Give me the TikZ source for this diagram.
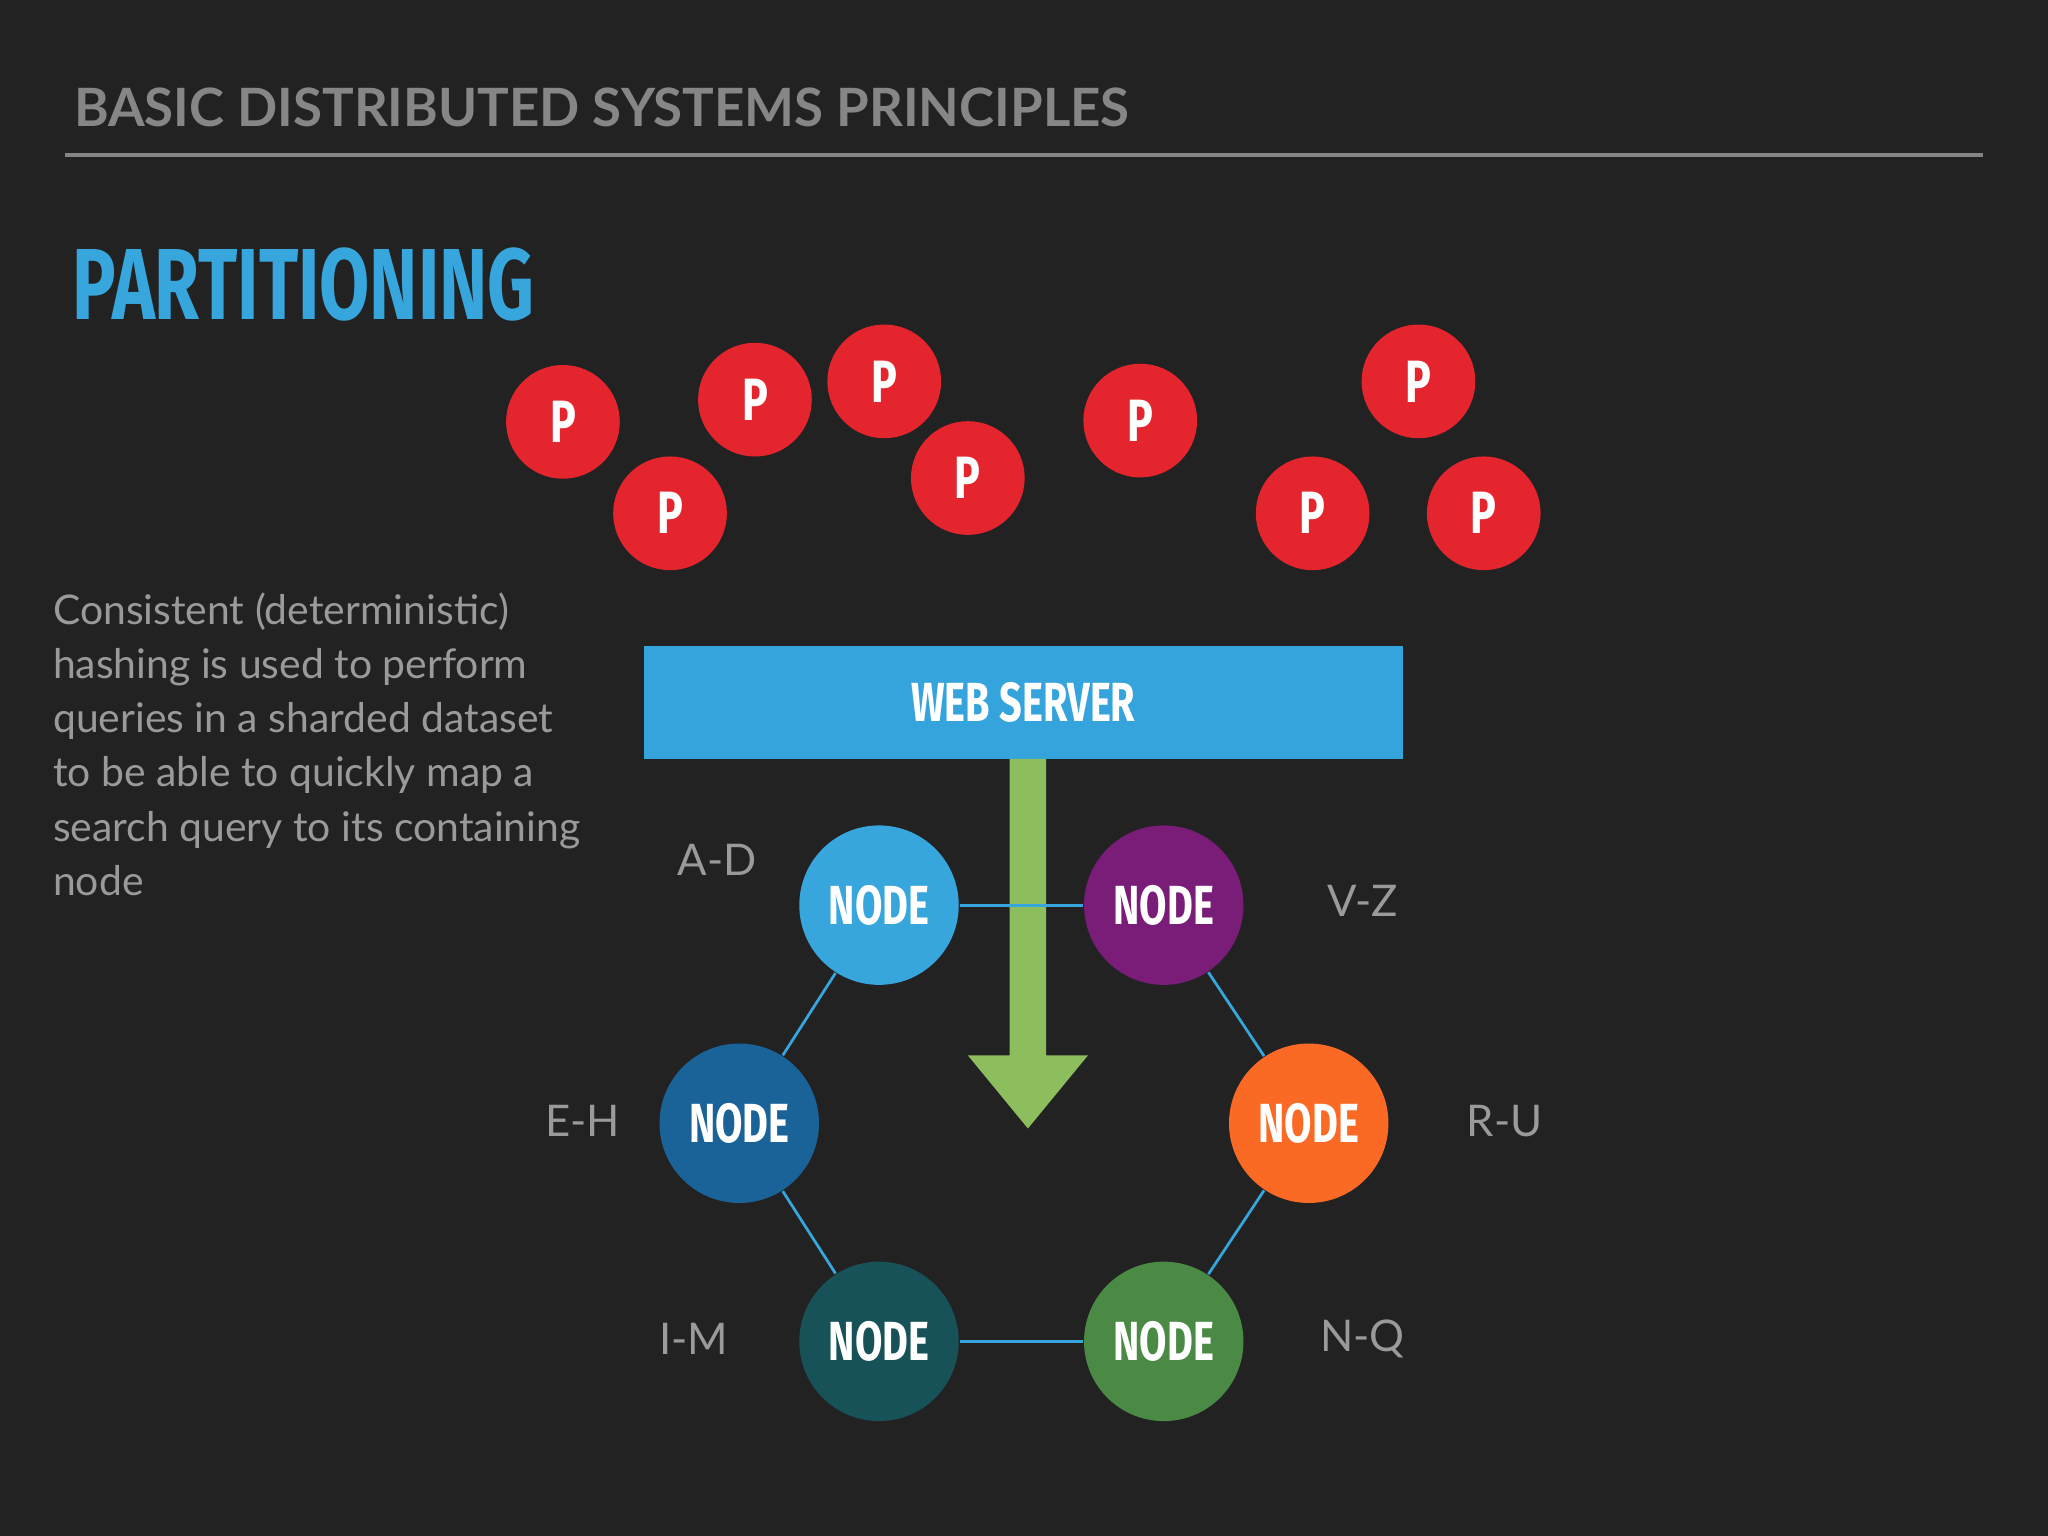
\documentclass[tikz,border=0pt]{standalone}
\usepackage{fontspec}
\setmainfont{Lato}
\newfontfamily\cond[FakeStretch=0.72]{Fira Sans}
\usetikzlibrary{positioning}
\definecolor{bg}{HTML}{222223}
\definecolor{pred}{HTML}{E4252E}
\definecolor{wsblue}{HTML}{35A4DC}
\definecolor{agreen}{HTML}{8DBE5D}
\definecolor{lgray}{HTML}{9A9A9A}
\definecolor{c1}{HTML}{36A6DD}
\definecolor{c2}{HTML}{7A1D79}
\definecolor{c3}{HTML}{1A6399}
\definecolor{c4}{HTML}{FB6A25}
\definecolor{c5}{HTML}{165257}
\definecolor{c6}{HTML}{4A8A45}
\tikzset{
 pcirc/.style={circle,fill=pred,minimum size=0.87cm,inner sep=0pt,text=white,font=\cond\bfseries\fontsize{13}{13}\selectfont},
 nd/.style={circle,minimum size=1.22cm,inner sep=0pt,text=white,font=\cond\bfseries\fontsize{12}{12}\selectfont},
 rng/.style={text=lgray,font=\fontsize{9.5}{10}\selectfont},
 link/.style={draw=c1,line width=0.6pt}
}
\begin{document}
\begin{tikzpicture}[x=0.01cm,y=-0.01cm]
\fill[bg] (0,0) rectangle (1568,1176);
\node[anchor=base west,inner sep=0,text=lgray!120,font=\fontsize{11.5}{12}\selectfont\bfseries] (hdr) at (56,97) {BASIC DISTRIBUTED SYSTEMS PRINCIPLES};
\draw[lgray!120,line width=0.9pt] (50,119) -- (1518,119);
\node[anchor=base west,inner sep=0,text=c1,font=\cond\bfseries\fontsize{22}{22}\selectfont] (title) at (55,245) {PARTITIONING};
\foreach \n/\x/\y in {p1/431/323,p2/578/306,p3/677/292,p4/513/393,p5/741/366,p6/873/322,p7/1086/292,p8/1005/393,p9/1136/393}
  \node[pcirc] (\n) at (\x,\y) {P};
\node[anchor=north west,inner sep=0,text=lgray,align=left,font=\fontsize{8.9}{11.8}\selectfont] (para) at (40,453)
 {Consistent (deterministic)\\hashing is used to perform\\queries in a sharded dataset\\to be able to quickly map a\\search query to its containing\\node};
\node[fill=wsblue,minimum width=5.81cm,minimum height=0.86cm,inner sep=0,text=white,font=\cond\bfseries\fontsize{12}{12}\selectfont] (ws) at (783.5,538) {WEB SERVER};
\node[nd,fill=c1] (ad) at (673,693) {NODE};
\node[nd,fill=c2] (vz) at (891,693) {NODE};
\node[nd,fill=c3] (eh) at (566,860) {NODE};
\node[nd,fill=c4] (ru) at (1002,860) {NODE};
\node[nd,fill=c5] (im) at (673,1027) {NODE};
\node[nd,fill=c6] (nq) at (891,1027) {NODE};
\coordinate (tip) at (787,864);
\fill[agreen] (773,581) -- (801,581) -- (801,808) -- (833,808) -- (tip) -- (741,808) -- (773,808) -- cycle;
\draw[link] (ad) -- (vz);
\draw[link] (vz) -- (ru);
\draw[link] (ru) -- (nq);
\draw[link] (nq) -- (im);
\draw[link] (im) -- (eh);
\draw[link] (eh) -- (ad);
\node[rng] (lad) at (549,658) {A-D};
\node[rng] (lvz) at (1043,690) {V-Z};
\node[rng] (leh) at (446,858) {E-H};
\node[rng] (lru) at (1152,858) {R-U};
\node[rng] (lim) at (531,1025) {I-M};
\node[rng] (lnq) at (1043,1025) {N-Q};
\end{tikzpicture}
\end{document}
